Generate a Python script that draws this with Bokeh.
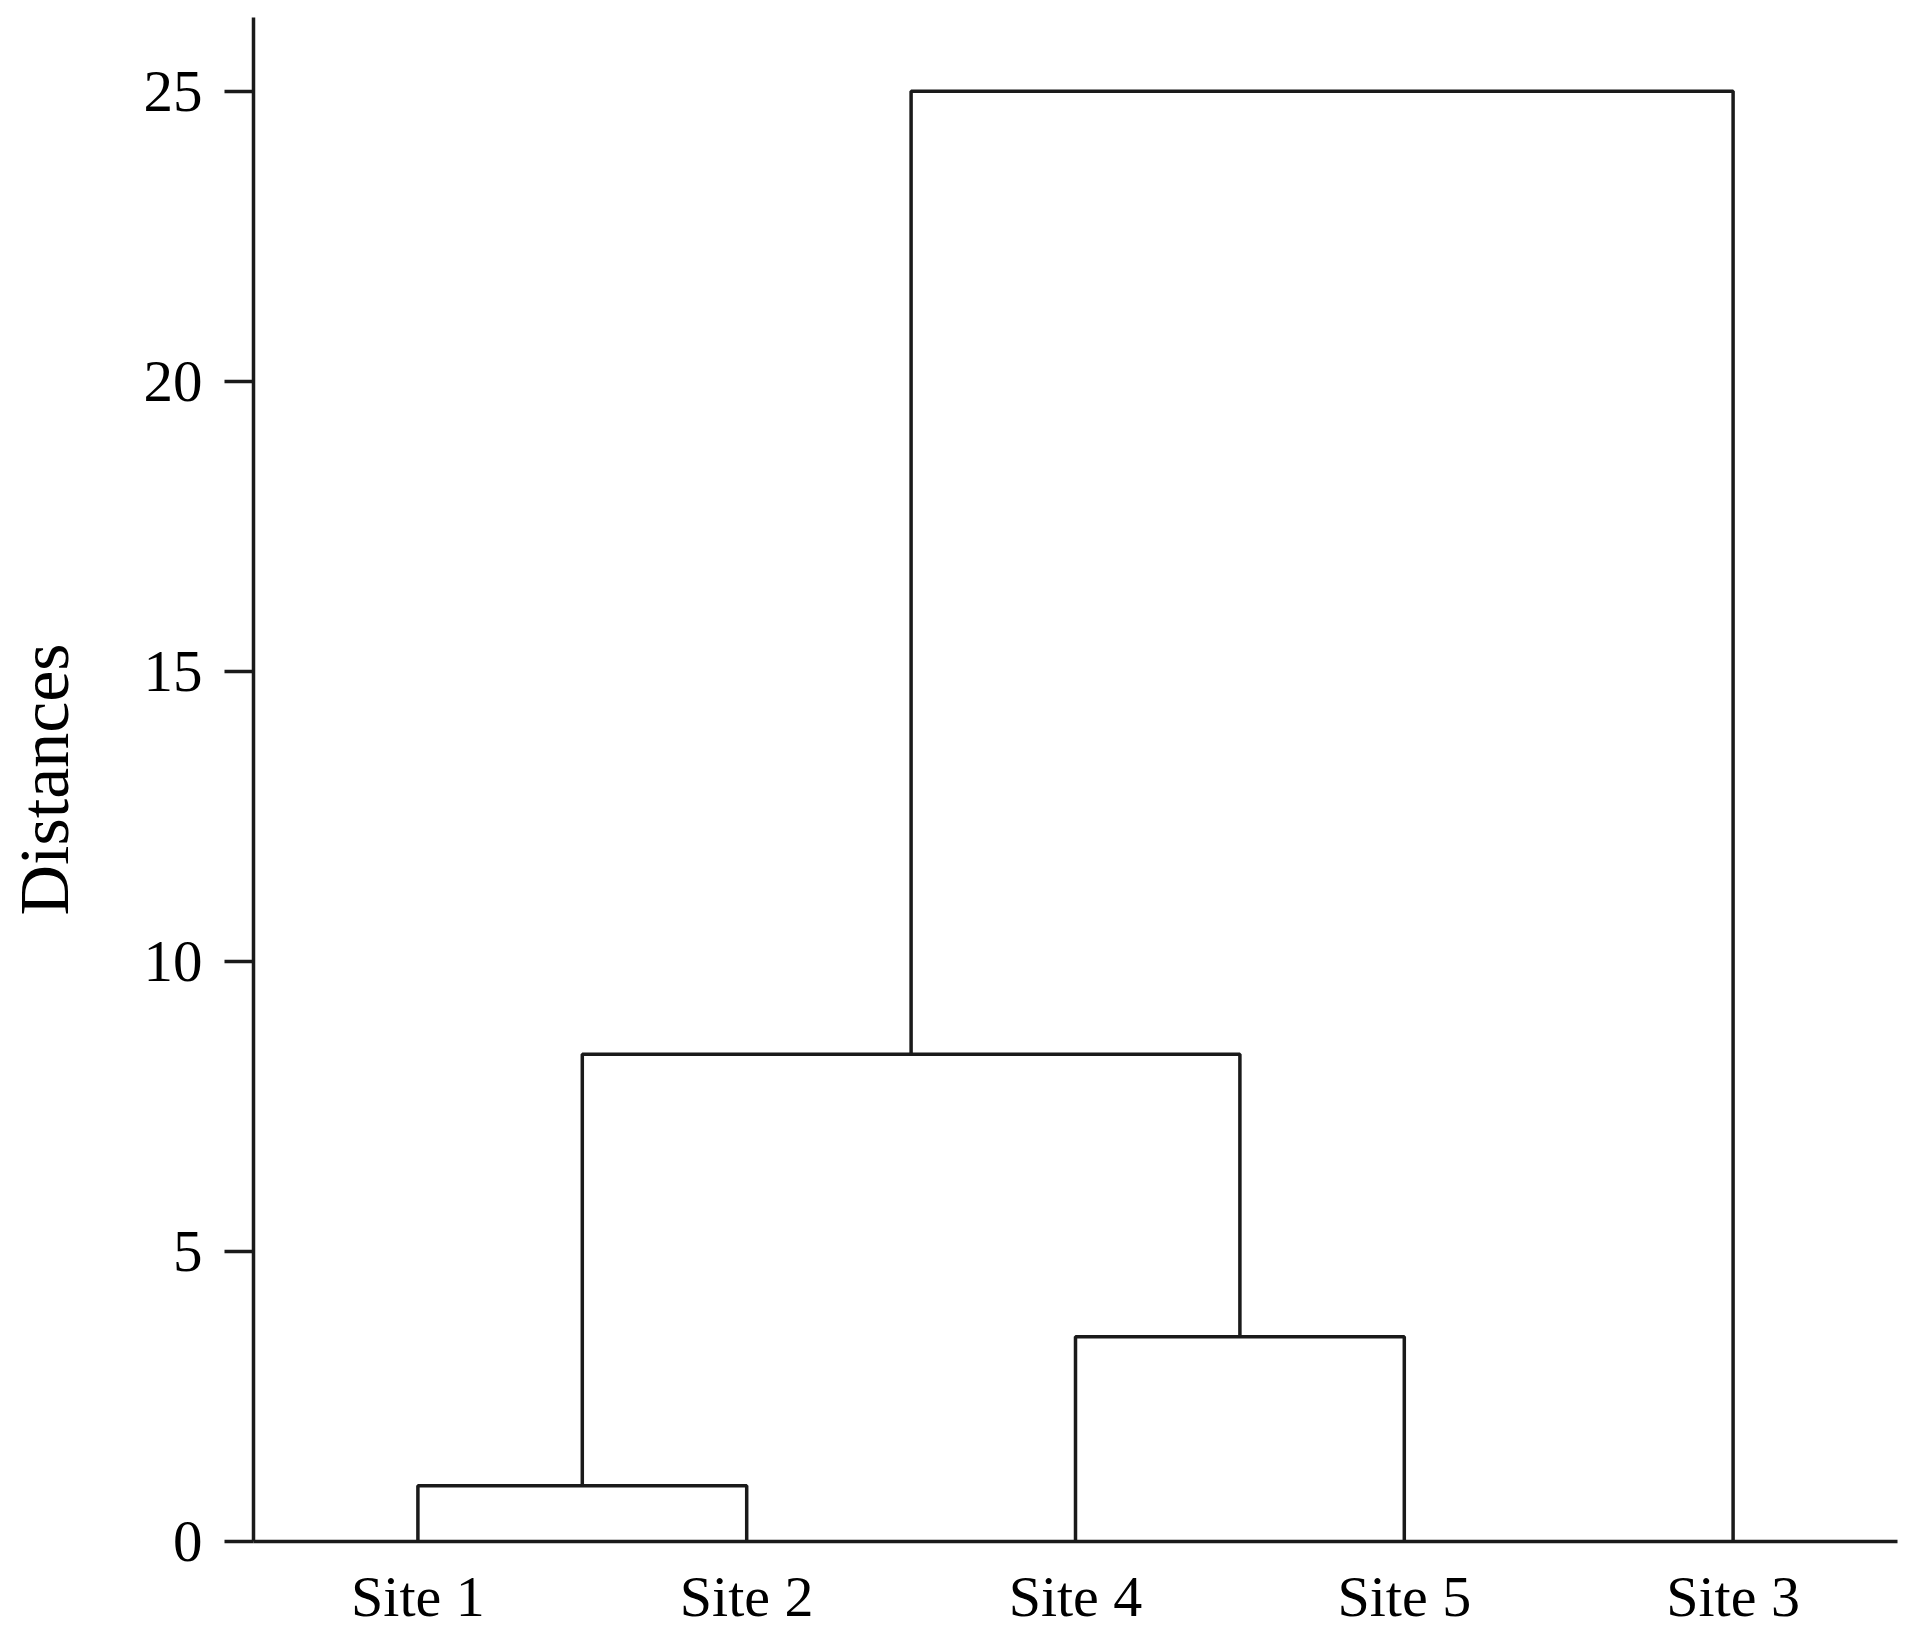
from bokeh.plotting import figure
from bokeh.models import Range1d, FixedTicker
from bokeh.embed import file_html
from bokeh.resources import INLINE

# Leaf order along the x axis
leaves = ["Site 1", "Site 2", "Site 4", "Site 5", "Site 3"]
# Agglomeration steps: (left member, right member, merge distance)
merge_left = ["Site 1", "Site 4", "C1", "C3"]
merge_right = ["Site 2", "Site 5", "C2", "Site 3"]
merge_height = [0.96, 3.53, 8.40, 25.0]
y_ticks = [0, 5, 10, 15, 20, 25]

# position of each node (leaf index 1..n, clusters at midpoints)
pos = {name: i + 1 for i, name in enumerate(leaves)}
hgt = {name: 0.0 for name in leaves}
xs, ys = [], []
for k, (a, b, h) in enumerate(zip(merge_left, merge_right, merge_height)):
    xa, xb = pos[a], pos[b]
    xs.append([xa, xa, xb, xb])
    ys.append([hgt[a], h, h, hgt[b]])
    cname = "C%d" % (k + 1)
    pos[cname] = (xa + xb) / 2.0
    hgt[cname] = h

INK = "#1a1a1a"
FONT = "Liberation Serif"
LW = 3.5

p = figure(width=1910, height=1636, output_backend="svg", toolbar_location=None,
           x_range=Range1d(0.5, 5.5), y_range=Range1d(0, 26.27),
           min_border_left=253, min_border_right=13, min_border_top=17, min_border_bottom=95)
p.outline_line_color = None
p.xgrid.visible = False
p.ygrid.visible = False
p.background_fill_color = "white"
p.border_fill_color = "white"

p.multi_line(xs, ys, line_color=INK, line_width=LW)

# x axis
p.xaxis.ticker = FixedTicker(ticks=list(range(1, len(leaves) + 1)))
p.xaxis.major_label_overrides = {i + 1: name for i, name in enumerate(leaves)}
p.xaxis.major_tick_line_color = None
p.xaxis.minor_tick_line_color = None
p.xaxis.axis_line_color = INK
p.xaxis.axis_line_width = LW
p.xaxis.major_label_text_font = FONT
p.xaxis.major_label_text_font_size = "58px"
p.xaxis.major_label_text_color = "black"
p.xaxis.major_label_standoff = 16

# y axis
p.yaxis.ticker = FixedTicker(ticks=y_ticks)
p.yaxis.minor_tick_line_color = None
p.yaxis.major_tick_out = 29
p.yaxis.major_tick_in = 0
p.yaxis.major_tick_line_color = INK
p.yaxis.major_tick_line_width = LW
p.yaxis.axis_line_color = INK
p.yaxis.axis_line_width = LW
p.yaxis.major_label_text_font = FONT
p.yaxis.major_label_text_font_size = "59px"
p.yaxis.major_label_text_color = "black"
p.yaxis.major_label_standoff = 22
p.yaxis.axis_label = "Distances"
p.yaxis.axis_label_text_font = FONT
p.yaxis.axis_label_text_font_size = "70px"
p.yaxis.axis_label_text_font_style = "normal"
p.yaxis.axis_label_text_color = "black"
p.yaxis.axis_label_standoff = 58

open("out.html", "w").write(file_html(p, INLINE))
